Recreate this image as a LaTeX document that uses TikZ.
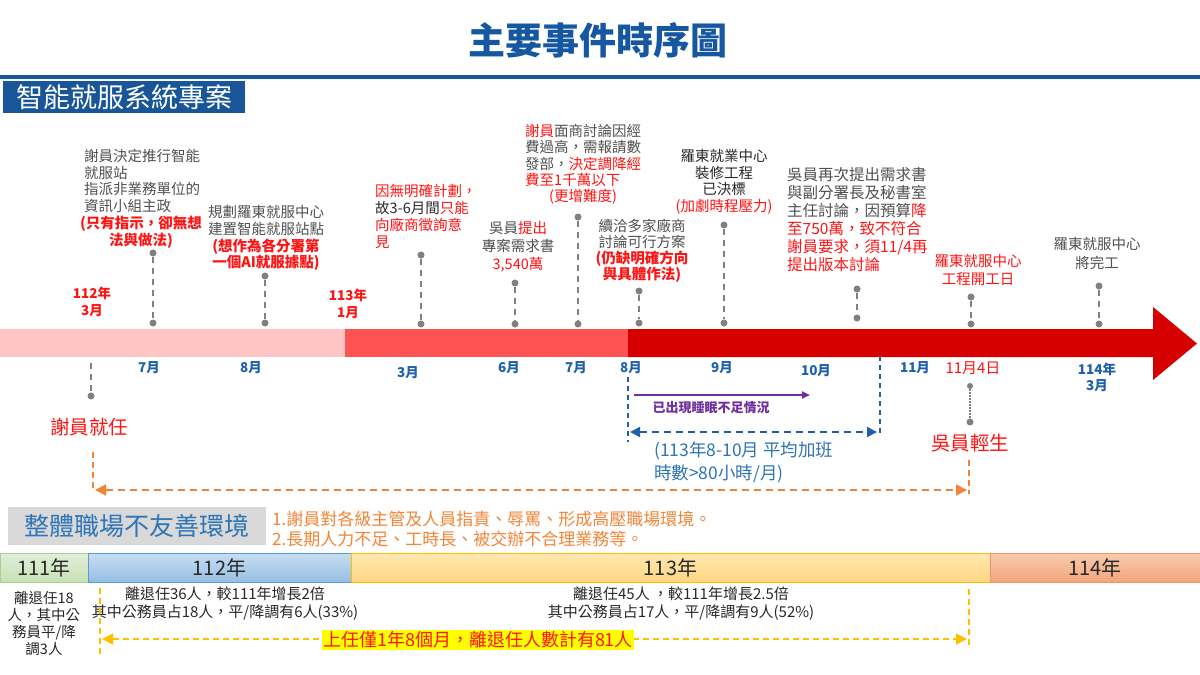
\documentclass[tikz,border=0pt]{standalone}
\usepackage{fontspec}
\setmainfont{Noto Sans CJK TC}
\usetikzlibrary{arrows.meta}
\definecolor{titleblue}{RGB}{21,87,161}
\definecolor{hdrblue}{RGB}{24,86,152}
\definecolor{txtgray}{RGB}{80,80,80}
\definecolor{txtdark}{RGB}{40,40,40}
\definecolor{evred}{RGB}{255,20,20}
\definecolor{dotgray}{RGB}{128,128,128}
\definecolor{monblue}{RGB}{30,96,170}
\definecolor{barpink}{RGB}{255,196,196}
\definecolor{barred}{RGB}{255,82,82}
\definecolor{bardark}{RGB}{215,0,0}
\definecolor{orng}{RGB}{242,133,55}
\definecolor{purp}{RGB}{112,48,160}
\definecolor{midblue}{RGB}{46,117,182}
\definecolor{boxgray}{RGB}{217,217,217}
\definecolor{gold}{RGB}{255,192,0}
\definecolor{hlyellow}{RGB}{255,255,0}
\tikzset{
  dot/.style={circle, fill=dotgray, inner sep=0pt, minimum size=7pt},
  gdash/.style={draw=dotgray, line width=1.6pt, dash pattern=on 6pt off 5pt},
  evt/.style={inner sep=0pt, text=txtgray},
  fs/.style={font=\fontsize{14.5}{#1}\selectfont},
  mon/.style={inner sep=0pt, text=monblue, font=\bfseries\fontsize{13.5}{16}\selectfont, align=center},
  ylab/.style={inner sep=0pt, text=evred, font=\bfseries\fontsize{13.5}{17}\selectfont, align=center},
  yearbox/.style={minimum height=29pt, inner sep=0pt, font=\fontsize{20}{24}\selectfont, text=txtdark, line width=1pt},
  stat/.style={inner sep=0pt, text=txtdark, align=center},
}
\begin{document}
\begin{tikzpicture}[x=1pt,y=-1pt]
\useasboundingbox (0,0) rectangle (1200,675);
\fill[white] (0,0) rectangle (1200,675);

% title
\node[text=titleblue, font=\bfseries\fontsize{37}{40}\selectfont, inner sep=0pt] (title) at (598,40) {主要事件時序圖};
\fill[hdrblue] (0,75) rectangle (1200,79);
\node[fill=hdrblue, text=white, font=\fontsize{27}{30}\selectfont, minimum width=242pt, minimum height=32pt, inner sep=0pt, anchor=north west] (hdr) at (3,81) {智能就服系統專案};

% timeline bar
\fill[barpink] (0,329) rectangle (346,357);
\fill[barred] (345,329) rectangle (629,357);
\fill[bardark] (628,329) -- (1153,329) -- (1153,307) -- (1197,343.5) -- (1153,380) -- (1153,357) -- (628,357) -- cycle;

% event dots and dashed connectors
\foreach \n/\x/\yt/\yb in {a/153/253/323, b/265/276/323, c/421/255/324, d/515/283/324, e/578/217/324, f/639/291/323, g/724/225/323, h/857/289/318, i/971/297/324, j/1099/286/324}{
  \node[dot] (\n t) at (\x,\yt) {};
  \node[dot] (\n b) at (\x,\yb) {};
  \draw[gdash] (\n t) -- (\n b);
}

% event texts
\node[evt, fs=16.7, align=left, anchor=north west] (e1) at (84,149) {謝員決定推行智能\\就服站\\指派非業務單位的\\資訊小組主政};
\node[evt, font=\bfseries\fontsize{14.5}{16.7}\selectfont, align=center, anchor=north, text=evred] (e1r) at (141,216) {(只有指示，卻無想\\法與做法)};
\node[evt, fs=16.8, align=center, anchor=north] (e2) at (266,205) {規劃羅東就服中心\\建置智能就服站點\\\textcolor{evred}{\bfseries (想作為各分署第}\\\textcolor{evred}{\bfseries 一個AI就服據點)}};
\node[evt, fs=17, align=left, anchor=north west, text=evred] (e3) at (375,184) {因無明確計劃，\\\textcolor{txtdark}{故3-6月間}只能\\向廠商徵詢意\\見};
\node[evt, fs=18, align=center, anchor=north] (e4) at (518,221) {吳員\textcolor{evred}{提出}\\專案需求書\\\textcolor{evred}{3,540萬}};
\node[evt, fs=16.3, align=left, anchor=north west] (e5) at (525,124) {\textcolor{evred}{謝員}面商討論因經\\費過高，需報請數\\發部，\textcolor{evred}{決定調降經}\\\textcolor{evred}{費至1千萬以下}};
\node[evt, fs=16.3, anchor=north, text=evred] (e5r) at (583,189) {(更增難度)};
\node[evt, fs=16, align=center, anchor=north] (e6) at (642,219) {續洽多家廠商\\討論可行方案\\\textcolor{evred}{\bfseries (仍缺明確方向}\\\textcolor{evred}{\bfseries 與具體作法)}};
\node[evt, fs=16.7, align=center, anchor=north, text=txtdark] (e7) at (724,149) {羅東就業中心\\裝修工程\\已決標\\\textcolor{evred}{(加劇時程壓力)}};
\node[evt, font=\fontsize{15.5}{18}\selectfont, align=left, anchor=north west] (e8) at (787,167) {吳員再次提出需求書\\與副分署長及秘書室\\主任討論，因預算\textcolor{evred}{降}\\\textcolor{evred}{至750萬，致不符合}\\\textcolor{evred}{謝員要求，須11/4再}\\\textcolor{evred}{提出版本討論}};
\node[evt, fs=18, align=center, anchor=north, text=evred] (e9) at (978,254) {羅東就服中心\\工程開工日};
\node[evt, fs=19, align=center, anchor=north] (e10) at (1097,237) {羅東就服中心\\將完工};

% year labels above bar
\node[ylab] (y112) at (92,301.5) {112年\\3月};
\node[ylab] (y113) at (348,303.5) {113年\\1月};

% month labels below bar
\node[mon] (m1) at (149,368) {7月};
\node[mon] (m2) at (251,368) {8月};
\node[mon] (m3) at (408,373) {3月};
\node[mon] (m4) at (509,368) {6月};
\node[mon] (m5) at (576,368) {7月};
\node[mon] (m6) at (631,368) {8月};
\node[mon] (m7) at (722,368) {9月};
\node[mon] (m8) at (816,371) {10月};
\node[mon] (m9) at (915,368) {11月};
\node[inner sep=0pt, text=evred, font=\fontsize{15}{18}\selectfont] (m10) at (973,368) {11月4日};
\node[mon] (m11) at (1097,377.5) {114年\\3月};

% 謝員就任
\coordinate (xs0) at (91,363);
\node[dot] (xsd) at (91,396) {};
\draw[gdash] (xs0) -- (xsd);
\node[inner sep=0pt, text=evred, font=\fontsize{19.5}{22}\selectfont] (xiejr) at (89,427) {謝員就任};

% 吳員輕生
\node[dot, minimum size=6pt] (wd1) at (970,386) {};
\node[dot] (wd2) at (970,422) {};
\draw[draw=dotgray, line width=1.3pt, dash pattern=on 1.5pt off 1.5pt] (wd1) -- (wd2);
\node[inner sep=0pt, text=evred, font=\fontsize{19.5}{22}\selectfont] (wuqs) at (970,443) {吳員輕生};

% purple arrow
\coordinate (pa1) at (634,395);
\coordinate (pa2) at (810,395);
\draw[purp, line width=2.2pt, -{Triangle[length=8pt,width=7pt]}] (pa1) -- (pa2);
\node[inner sep=0pt, text=purp, font=\bfseries\fontsize{13}{16}\selectfont] (sleep) at (711,408) {已出現睡眠不足情況};

% blue dashed bracket
\coordinate (bl1) at (628,377);
\coordinate (bl2) at (628,442);
\coordinate (br1) at (880,356);
\coordinate (br2) at (880,435);
\coordinate (ba1) at (630,432);
\coordinate (ba2) at (877,432);
\draw[monblue, line width=1.8pt, dash pattern=on 5pt off 4pt] (bl1) -- (bl2);
\draw[monblue, line width=1.8pt, dash pattern=on 5pt off 4pt] (br1) -- (br2);
\draw[monblue, line width=2pt, dash pattern=on 7pt off 5pt, {Triangle[length=10pt,width=10pt]}-{Triangle[length=10pt,width=10pt]}] (ba1) -- (ba2);
\node[inner sep=0pt, text=midblue, font=\fontsize{17.5}{23}\selectfont, align=left, anchor=north west] (ot) at (654,442) {(113年8-10月 平均加班\\時數>80小時/月)};

% orange dashed bracket
\coordinate (ol1) at (93,452);
\coordinate (ol2) at (93,492);
\coordinate (or1) at (969,460);
\coordinate (or2) at (969,494);
\coordinate (oa1) at (95,490);
\coordinate (oa2) at (967,490);
\draw[orng, line width=1.8pt, dash pattern=on 6pt off 4pt] (ol1) -- (ol2);
\draw[orng, line width=1.8pt, dash pattern=on 6pt off 4pt] (or1) -- (or2);
\draw[orng, line width=2pt, dash pattern=on 7pt off 5pt, {Triangle[length=11pt,width=11pt]}-{Triangle[length=11pt,width=11pt]}] (oa1) -- (oa2);

% unfriendly workplace
\node[fill=boxgray, minimum width=258pt, minimum height=38pt, inner sep=0pt, anchor=north west, text=midblue, font=\fontsize{25}{28}\selectfont] (env) at (8,507) {整體職場不友善環境};
\node[inner sep=0pt, text=orng, font=\fontsize{17}{20}\selectfont, align=left, anchor=north west] (envt) at (272,511) {1.謝員對各級主管及人員指責、辱罵、形成高壓職場環境。\\2.長期人力不足、工時長、被交辦不合理業務等。};

% year bar
\node[yearbox, minimum width=88pt, top color={rgb,255:red,226;green,239;blue,218}, bottom color={rgb,255:red,198;green,224;blue,180}, draw={rgb,255:red,169;green,209;blue,142}] (y1) at (44,567.5) {111年};
\node[yearbox, minimum width=263pt, top color={rgb,255:red,200;green,222;blue,242}, bottom color={rgb,255:red,150;green,190;blue,228}, draw={rgb,255:red,91;green,155;blue,213}] (y2) at (219.5,567.5) {112年};
\node[yearbox, minimum width=639pt, top color={rgb,255:red,255;green,232;blue,178}, bottom color={rgb,255:red,255;green,214;blue,130}, draw=gold] (y3) at (670.5,567.5) {113年};
\node[yearbox, minimum width=210pt, top color={rgb,255:red,248;green,203;blue,173}, bottom color={rgb,255:red,242;green,165;blue,125}, draw={rgb,255:red,237;green,150;blue,110}] (y4) at (1095,567.5) {114年};

% stats
\node[stat, font=\fontsize{14.5}{17}\selectfont] (s1) at (44,623) {離退任18\\人，其中公\\務員平/降\\調3人};
\node[stat, font=\fontsize{15}{18}\selectfont] (s2) at (225,604) {離退任36人，較111年增長2倍\\其中公務員占18人，平/降調有6人(33\%)};
\node[stat, font=\fontsize{15}{18}\selectfont] (s3) at (681,604) {離退任45人 ，較111年增長2.5倍\\其中公務員占17人，平/降調有9人(52\%)};

% gold dashed bracket
\coordinate (gl1) at (100,588);
\coordinate (gl2) at (100,655);
\coordinate (gr1) at (969,589);
\coordinate (gr2) at (969,648);
\coordinate (ga1) at (102,639);
\coordinate (ga2) at (967,639);
\draw[gold, line width=1.8pt, dash pattern=on 6pt off 4pt] (gl1) -- (gl2);
\draw[gold, line width=1.8pt, dash pattern=on 6pt off 4pt] (gr1) -- (gr2);
\draw[gold, line width=1.8pt, dash pattern=on 6pt off 4pt, {Triangle[length=11pt,width=11pt]}-{Triangle[length=11pt,width=11pt]}] (ga1) -- (ga2);
\node[fill=hlyellow, text=evred, inner sep=1.5pt, font=\fontsize{18}{20}\selectfont] (total) at (478,640) {上任僅1年8個月，離退任人數計有81人};
\end{tikzpicture}
\end{document}
